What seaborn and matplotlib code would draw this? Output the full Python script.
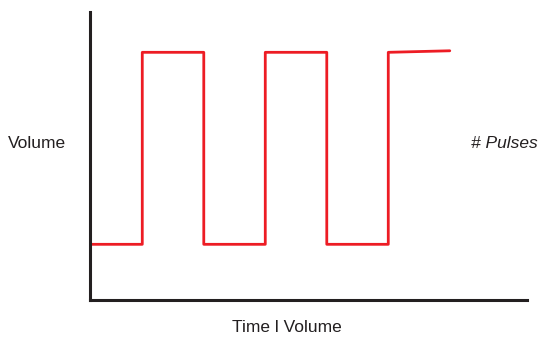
import matplotlib
matplotlib.use("Agg")
import matplotlib.pyplot as plt
import seaborn as sns
import pandas as pd

# Data (time units, volume units)
time = [0.0, 0.85, 0.85, 1.85, 1.85, 2.85, 2.85, 3.85, 3.85, 4.85, 4.85, 5.85]
volume = [0.29, 0.29, 1.29, 1.29, 0.29, 0.29, 1.29, 1.29, 0.29, 0.29, 1.29, 1.298]

sns.set_style("white")
plt.rcParams['font.family'] = ['Liberation Sans', 'DejaVu Sans']

fig = plt.figure(figsize=(5.41, 3.39), dpi=100)
ax = fig.add_axes([90/541, 39/339, (527-90)/541, (300-12)/339])

df = pd.DataFrame({"time": time, "volume": volume})
sns.lineplot(data=df, x="time", y="volume", estimator=None, sort=False,
             color="#ED1C24", linewidth=2.0, ax=ax)

ax.set_xlim(0, 437/61.5)
ax.set_ylim(0, 1.5)
ax.set_xticks([])
ax.set_yticks([])
ax.set_xlabel("")
ax.set_ylabel("")
for s in ["top", "right"]:
    ax.spines[s].set_visible(False)
for s in ["left", "bottom"]:
    ax.spines[s].set_color("#231F20")
    ax.spines[s].set_linewidth(2.2)

fig.text(8/541, 1-143/339, "Volume", fontsize=12.5, ha="left", va="center", color="#231F20")
fig.text(538/541, 1-143/339, "# Pulses", fontsize=12.5, ha="right", va="center",
         style="italic", color="#231F20")
fig.text(287/541, 1-327/339, "Time l Volume", fontsize=12.5, ha="center", va="center",
         color="#231F20")

fig.savefig("out.png", dpi=100)
